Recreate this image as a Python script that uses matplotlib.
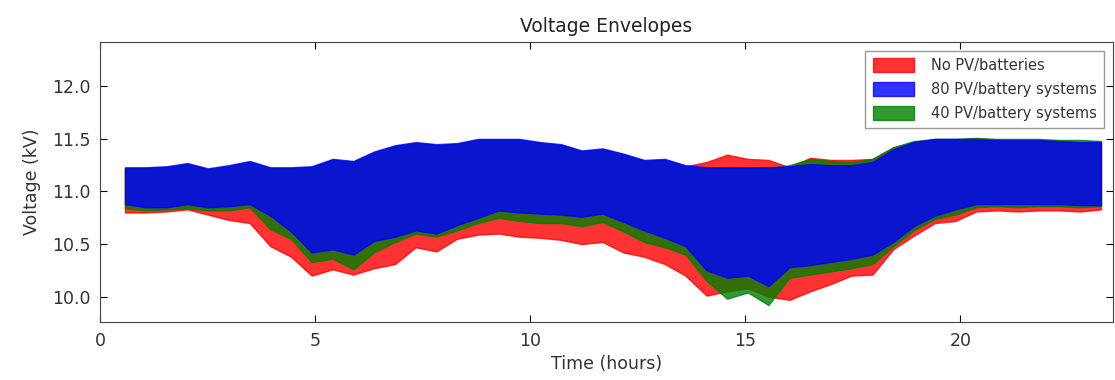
import numpy as np
import matplotlib
matplotlib.use("Agg")
import matplotlib.pyplot as plt
from matplotlib.patches import Patch

# time grid (hours)
hours = [0.58, 1.06, 1.55, 2.03, 2.51, 2.99, 3.48, 3.96, 4.44, 4.92, 5.41, 5.89,
         6.37, 6.86, 7.34, 7.82, 8.30, 8.79, 9.27, 9.75, 10.23, 10.72, 11.20, 11.68,
         12.17, 12.65, 13.13, 13.61, 14.10, 14.58, 15.06, 15.54, 16.03, 16.51, 16.99, 17.47,
         17.96, 18.44, 18.92, 19.41, 19.89, 20.37, 20.85, 21.34, 21.82, 22.30, 22.79, 23.27]

# 80 PV/battery systems envelope
pv80_upper = [11.23, 11.23, 11.24, 11.27, 11.22, 11.25, 11.29, 11.23, 11.23, 11.24, 11.31, 11.29,
              11.38, 11.44, 11.47, 11.45, 11.46, 11.50, 11.50, 11.50, 11.47, 11.45, 11.39, 11.41,
              11.36, 11.30, 11.31, 11.25, 11.23, 11.23, 11.23, 11.23, 11.24, 11.26, 11.25, 11.25,
              11.28, 11.40, 11.47, 11.50, 11.50, 11.50, 11.49, 11.49, 11.49, 11.48, 11.47, 11.47]
pv80_lower = [10.88, 10.85, 10.85, 10.88, 10.85, 10.86, 10.88, 10.77, 10.62, 10.42, 10.45, 10.40,
              10.53, 10.57, 10.63, 10.60, 10.68, 10.75, 10.82, 10.80, 10.79, 10.78, 10.76, 10.79,
              10.71, 10.63, 10.56, 10.48, 10.25, 10.18, 10.20, 10.10, 10.28, 10.30, 10.33, 10.36,
              10.40, 10.52, 10.67, 10.77, 10.83, 10.88, 10.88, 10.88, 10.88, 10.88, 10.87, 10.87]

# 40 PV/battery systems envelope
pv40_upper = [11.22, 11.22, 11.23, 11.26, 11.21, 11.24, 11.28, 11.22, 11.22, 11.23, 11.30, 11.28,
              11.37, 11.43, 11.46, 11.44, 11.45, 11.49, 11.49, 11.49, 11.46, 11.44, 11.38, 11.40,
              11.35, 11.29, 11.30, 11.24, 11.22, 11.22, 11.22, 11.22, 11.25, 11.31, 11.29, 11.28,
              11.31, 11.42, 11.48, 11.50, 11.50, 11.51, 11.50, 11.50, 11.50, 11.49, 11.49, 11.48]
pv40_lower = [10.84, 10.82, 10.83, 10.84, 10.82, 10.82, 10.85, 10.64, 10.55, 10.33, 10.36, 10.26,
              10.42, 10.52, 10.60, 10.57, 10.63, 10.70, 10.75, 10.72, 10.70, 10.70, 10.67, 10.71,
              10.62, 10.52, 10.47, 10.40, 10.15, 9.98, 10.04, 9.92, 10.18, 10.21, 10.24, 10.27,
              10.31, 10.48, 10.63, 10.74, 10.78, 10.85, 10.86, 10.85, 10.86, 10.86, 10.85, 10.86]

# No PV/batteries envelope
nopv_upper = [11.22, 11.22, 11.23, 11.26, 11.21, 11.24, 11.28, 11.22, 11.22, 11.23, 11.30, 11.28,
              11.37, 11.43, 11.46, 11.44, 11.45, 11.49, 11.49, 11.49, 11.46, 11.44, 11.38, 11.40,
              11.35, 11.29, 11.30, 11.24, 11.28, 11.35, 11.31, 11.30, 11.23, 11.32, 11.30, 11.30,
              11.31, 11.42, 11.47, 11.48, 11.48, 11.48, 11.48, 11.48, 11.48, 11.47, 11.46, 11.46]
nopv_lower = [10.80, 10.80, 10.81, 10.83, 10.78, 10.73, 10.70, 10.48, 10.38, 10.20, 10.26, 10.21,
              10.27, 10.31, 10.47, 10.43, 10.55, 10.59, 10.60, 10.57, 10.56, 10.54, 10.50, 10.52,
              10.42, 10.38, 10.31, 10.20, 10.01, 10.05, 10.08, 10.00, 9.97, 10.05, 10.12, 10.20,
              10.21, 10.45, 10.58, 10.70, 10.72, 10.81, 10.82, 10.81, 10.82, 10.82, 10.81, 10.83]

labels = ["No PV/batteries", "80 PV/battery systems", "40 PV/battery systems"]
colors = ["red", "blue", "green"]

fig = plt.figure(figsize=(11.15, 3.8), dpi=100)
ax = fig.add_axes([0.0897, 0.153, 0.9085, 0.736])

t = np.array(hours)
ax.fill_between(t, nopv_lower, nopv_upper, color=colors[0], alpha=0.8, lw=1)
ax.fill_between(t, pv40_lower, pv40_upper, color=colors[2], alpha=0.8, lw=1)
ax.fill_between(t, pv80_lower, pv80_upper, color=colors[1], alpha=0.8, lw=1)

ax.set_xlim(0, 23.55)
ax.set_ylim(9.76, 12.42)
ax.set_xticks([0, 5, 10, 15, 20])
ax.set_yticks([10.0, 10.5, 11.0, 11.5, 12.0])
ax.set_yticklabels(["10.0", "10.5", "11.0", "11.5", "12.0"])
ax.tick_params(direction="in", top=True, right=True, length=5, labelsize=12.5,
               labelcolor="#333333", pad=7)
for s in ax.spines.values():
    s.set_color("#444444")

ax.set_xlabel("Time (hours)", fontsize=12.5, color="#333333", labelpad=4)
ax.set_ylabel("Voltage (kV)", fontsize=12.5, color="#333333", labelpad=8)
ax.set_title("Voltage Envelopes", fontsize=13.5, color="#222222", pad=7)

handles = [Patch(facecolor=colors[i], edgecolor=colors[i], alpha=0.8) for i in range(3)]
leg = ax.legend(handles, labels, loc="upper right", fontsize=10.5, fancybox=False,
                framealpha=1, edgecolor="#999999", handlelength=2.8, handleheight=1.1,
                borderaxespad=0.6, labelspacing=0.6, handletextpad=1.2, borderpad=0.5)
for txt in leg.get_texts():
    txt.set_color("#333333")

fig.savefig("out.png", dpi=100)
